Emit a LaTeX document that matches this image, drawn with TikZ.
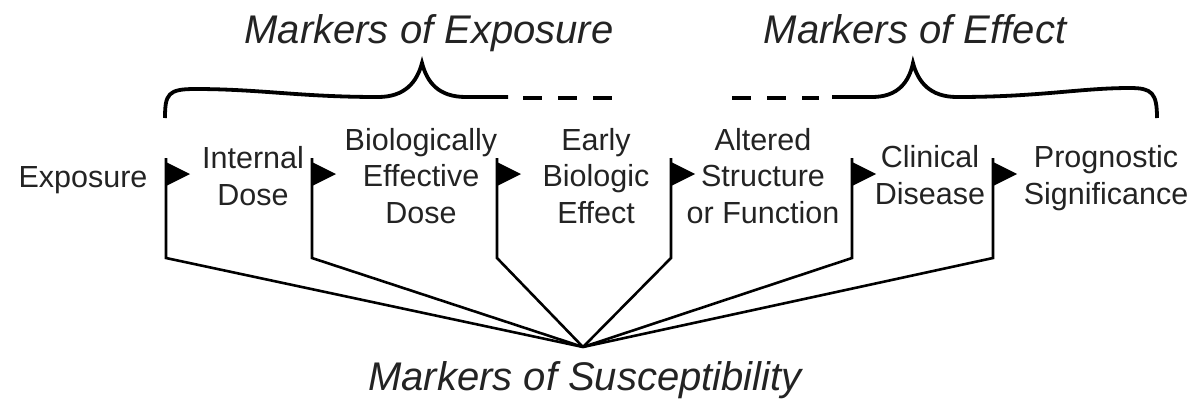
\documentclass[tikz,border=0pt]{standalone}
\usepackage{fontspec}
\setmainfont{Liberation Sans}
\definecolor{txt}{RGB}{35,35,35}
\begin{document}
\begin{tikzpicture}[x=1pt,y=-1pt,
  lbl/.style={font=\fontsize{30.5}{36.5}\selectfont, align=center, anchor=base, inner sep=0pt, text=txt},
  ttl/.style={font=\fontsize{40}{48}\selectfont\itshape, anchor=base, inner sep=0pt, text=txt},
  pole/.style={line width=2.6pt, line join=miter},
  flagtip/.style={fill=black},
  brace/.style={line width=3.8pt, line cap=butt},
  dashline/.style={line width=3.6pt, dash pattern=on 19pt off 16pt}]
\useasboundingbox (0,0) rectangle (1199,402);

% stage labels (anchor = baseline of last line)
\node[lbl] (exp) at (83,187) {Exposure};
\node[lbl] (intd) at (253,205) {Internal\\Dose};
\node[lbl] (bed) at (421,223) {Biologically\\Effective\\Dose};
\node[lbl] (ebe) at (596,223) {Early\\Biologic\\Effect};
\node[lbl] (asf) at (763,223) {Altered\\Structure\\or Function};
\node[lbl] (cd) at (930,204) {Clinical\\Disease};
\node[lbl] (ps) at (1106,204) {Prognostic\\Significance};

% titles
\node[ttl] (mexp) at (429,43) {Markers of Exposure};
\node[ttl] (meff) at (915,43) {Markers of Effect};
\node[ttl] (msus) at (585,390) {Markers of Susceptibility};

% convergence point
\coordinate (conv) at (583,347);

% flag poles
\foreach \i/\x in {1/166,2/312,3/497,4/671,5/852,6/993}{
  \coordinate (p\i t) at (\x,158);
  \coordinate (p\i b) at (\x,258);
  \draw[pole] (p\i t) -- (p\i b) -- (conv);
  \fill[flagtip] (p\i t) ++(0,4) -- ++(24,12) -- ++(-24,12) -- cycle;
}

% brace: markers of exposure
\draw[brace] (165,118) .. controls (165,94) and (168,89) .. (195,89)
  .. controls (260,89) and (300,97) .. (378,97)
  .. controls (405,97) and (417,82) .. (422,63)
  .. controls (427,82) and (438,97) .. (466,97) -- (508,97);
\draw[dashline] (523,98) -- (616,98);

% brace: markers of effect
\draw[dashline] (732,98) -- (819,98);
\draw[brace] (832,97) -- (872,97)
  .. controls (898,97) and (909,82) .. (913,63)
  .. controls (918,82) and (930,97) .. (957,97)
  .. controls (1040,97) and (1080,88) .. (1130,88)
  .. controls (1152,88) and (1157,93) .. (1157,118);
\end{tikzpicture}
\end{document}
